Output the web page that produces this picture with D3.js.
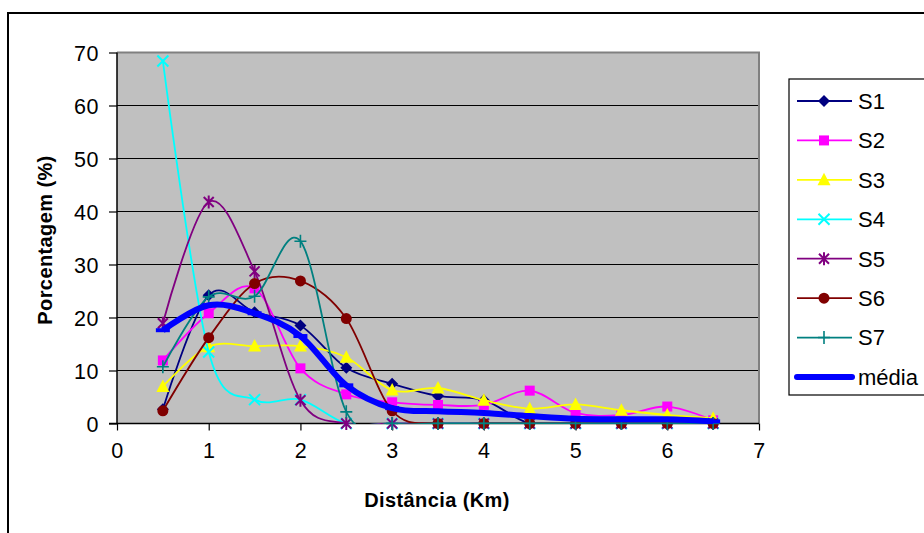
<!DOCTYPE html>
<html>
<head>
<meta charset="utf-8">
<script src="https://cdn.jsdelivr.net/npm/d3@7"></script>
<style>
  html, body { margin: 0; padding: 0; background: #fff; }
  svg { display: block; font-family: Arial, "Liberation Sans", sans-serif; }
</style>
</head>
<body>
<svg id="chart" width="924" height="533"></svg>
<script>
// Distance classes (km)
const distances = [0.5, 1, 1.5, 2, 2.5, 3, 3.5, 4, 4.5, 5, 5.5, 6, 6.5];

// Percentage per distance class for each site
const s1 = [2.7, 24.2, 21.0, 18.5, 10.5, 7.5, 5.2, 4.4, 0, 0, 0, 0, 0];
const s2 = [11.9, 20.8, 25.5, 10.4, 5.5, 4.0, 3.5, 3.5, 6.2, 2.0, 1.6, 3.2, 0.6];
const s3 = [7.0, 14.5, 14.6, 14.6, 12.5, 6.3, 6.7, 4.4, 2.8, 3.6, 2.5, 1.6, 1.0];
const s4 = [68.4, 13.5, 4.5, 4.5, 0, 0, 0, 0, 0, 0, 0, 0, 0];
const s5 = [18.9, 41.8, 28.7, 4.4, 0, 0, 0, 0, 0, 0, 0, 0, 0];
const s6 = [2.4, 16.2, 26.4, 26.9, 19.8, 2.4, 0, 0, 0, 0, 0, 0, 0];
const s7 = [10.7, 23.9, 24.0, 34.4, 2.2, 0, 0, 0, 0, 0, 0, 0, 0];
const media = [17.6, 22.3, 20.8, 16.5, 7.2, 2.9, 2.3, 2.0, 1.4, 0.9, 0.8, 0.8, 0.4];

const seriesNames = ["S1", "S2", "S3", "S4", "S5", "S6", "S7", "média"];
const xTicks = [0, 1, 2, 3, 4, 5, 6, 7];
const yTicks = [0, 10, 20, 30, 40, 50, 60, 70];

const series = [
  { name: seriesNames[0], values: s1, color: "#000080", marker: "diamond" },
  { name: seriesNames[1], values: s2, color: "#FF00FF", marker: "square" },
  { name: seriesNames[2], values: s3, color: "#FFFF00", marker: "triangle" },
  { name: seriesNames[3], values: s4, color: "#00FFFF", marker: "x" },
  { name: seriesNames[4], values: s5, color: "#800080", marker: "star" },
  { name: seriesNames[5], values: s6, color: "#800000", marker: "circle" },
  { name: seriesNames[6], values: s7, color: "#008080", marker: "plus" },
  { name: seriesNames[7], values: media, color: "#0000FF", marker: "dash" }
];

const svg = d3.select("#chart");

// Outer chart frame
svg.append("rect")
  .attr("x", 8).attr("y", 13).attr("width", 940).attr("height", 560)
  .attr("fill", "#fff").attr("stroke", "#000").attr("stroke-width", 2);

const plot = { left: 117, top: 52.5, right: 759, bottom: 423.5 };

const x = d3.scaleLinear().domain([0, 7]).range([plot.left, plot.right]);
const y = d3.scaleLinear().domain([0, 70]).range([plot.bottom, plot.top]);

// Clip region so smoothed curves stay inside the plot area
svg.append("clipPath").attr("id", "plot-clip")
  .append("rect")
  .attr("x", plot.left).attr("y", plot.top - 10)
  .attr("width", plot.right - plot.left).attr("height", plot.bottom - plot.top + 10.5);

// Plot area background
svg.append("rect")
  .attr("x", plot.left).attr("y", plot.top)
  .attr("width", plot.right - plot.left).attr("height", plot.bottom - plot.top)
  .attr("fill", "#C0C0C0");

// Horizontal gridlines
svg.append("g")
  .selectAll("line")
  .data(yTicks.filter(d => d > 0 && d < 70))
  .join("line")
  .attr("x1", plot.left).attr("x2", plot.right)
  .attr("y1", d => y(d)).attr("y2", d => y(d))
  .attr("stroke", "#000").attr("stroke-width", 1.2);

// Plot area frame (top and right)
svg.append("path")
  .attr("d", `M${plot.left},${plot.top}H${plot.right}V${plot.bottom}`)
  .attr("fill", "none").attr("stroke", "#808080").attr("stroke-width", 2);

// Axes
const yAxis = d3.axisLeft(y).tickValues(yTicks).tickSize(8).tickPadding(10).tickFormat(d3.format("d"));
const xAxis = d3.axisBottom(x).tickValues(xTicks).tickSize(7).tickPadding(12).tickFormat(d3.format("d"));

const gy = svg.append("g").attr("transform", `translate(${plot.left},0)`).call(yAxis);
const gx = svg.append("g").attr("transform", `translate(0,${plot.bottom})`).call(xAxis);

[gx, gy].forEach(g => {
  g.select(".domain").attr("stroke", "#000").attr("stroke-width", 1.5);
  g.selectAll(".tick line").attr("stroke", "#000").attr("stroke-width", 1.2);
  g.selectAll(".tick text")
    .attr("fill", "#000")
    .style("font-family", "Arial, 'Liberation Sans', sans-serif")
    .style("font-size", "21.5px")
    .style("letter-spacing", "0.6px");
});
gy.select(".domain").attr("d", `M-8,${plot.bottom}H0V${plot.top}`);
gx.select(".domain").attr("d", `M${plot.left},0H${plot.right}`);
gy.selectAll(".tick text").attr("dy", "0.36em");

// Axis titles
svg.append("text")
  .attr("x", (plot.left + plot.right) / 2 - 1).attr("y", 507)
  .attr("text-anchor", "middle")
  .style("font-size", "20px").style("font-weight", "bold")
  .style("letter-spacing", "0.4px")
  .text("Distância (Km)");

svg.append("text")
  .attr("transform", `translate(52,${(plot.top + plot.bottom) / 2 + 2}) rotate(-90)`)
  .attr("text-anchor", "middle")
  .style("font-size", "20px").style("font-weight", "bold")
  .style("letter-spacing", "0.4px")
  .text("Porcentagem (%)");

// Marker drawing
function drawMarker(g, type, color, cx, cy) {
  const m = g.append("g").attr("transform", `translate(${cx},${cy})`);
  switch (type) {
    case "diamond":
      m.append("path").attr("d", "M0,-6L6,0L0,6L-6,0Z").attr("fill", color);
      break;
    case "square":
      m.append("rect").attr("x", -5).attr("y", -5).attr("width", 10).attr("height", 10).attr("fill", color);
      break;
    case "triangle":
      m.append("path").attr("d", "M0,-7L6.5,5.5L-6.5,5.5Z").attr("fill", color);
      break;
    case "x":
      m.append("path").attr("d", "M-5.5,-5.5L5.5,5.5M5.5,-5.5L-5.5,5.5")
        .attr("stroke", color).attr("stroke-width", 2);
      break;
    case "star":
      m.append("path").attr("d", "M-5,-5L5,5M5,-5L-5,5M0,-6.5V6.5")
        .attr("stroke", color).attr("stroke-width", 2);
      break;
    case "circle":
      m.append("circle").attr("r", 5.5).attr("fill", color);
      break;
    case "plus":
      m.append("path").attr("d", "M-6,0H6M0,-6.5V6.5")
        .attr("stroke", color).attr("stroke-width", 1.6);
      break;
    case "dash":
      m.append("path").attr("d", "M-7,0H7")
        .attr("stroke", color).attr("stroke-width", 4);
      break;
  }
}

const line = d3.line()
  .x(d => x(d[0]))
  .y(d => y(d[1]))
  .curve(d3.curveCardinal.tension(0));

const gSeries = svg.append("g");
series.forEach(s => {
  const pts = distances.map((d, i) => [d, s.values[i]]);
  const g = gSeries.append("g");
  g.append("path")
    .attr("d", line(pts))
    .attr("clip-path", "url(#plot-clip)")
    .attr("fill", "none")
    .attr("stroke", s.color)
    .attr("stroke-width", s.marker === "dash" ? 6 : 1.8)
    .attr("stroke-linejoin", "round");
  pts.forEach(p => drawMarker(g, s.marker, s.color, x(p[0]), y(p[1])));
});

// Legend
const legend = svg.append("g");
legend.append("rect")
  .attr("x", 789).attr("y", 79).attr("width", 160).attr("height", 316)
  .attr("fill", "#fff").attr("stroke", "#000").attr("stroke-width", 1.2);

const legendY = d3.scalePoint().domain(seriesNames).range([101, 377]);
series.forEach(s => {
  const ly = legendY(s.name);
  const g = legend.append("g");
  if (s.marker === "dash") {
    g.append("line").attr("x1", 797).attr("x2", 852).attr("y1", ly).attr("y2", ly)
      .attr("stroke", s.color).attr("stroke-width", 6).attr("stroke-linecap", "round");
  } else {
    g.append("line").attr("x1", 797).attr("x2", 852).attr("y1", ly).attr("y2", ly)
      .attr("stroke", s.color).attr("stroke-width", 1.8);
    drawMarker(g, s.marker, s.color, 824, ly);
  }
  g.append("text")
    .attr("x", 858).attr("y", ly).attr("dy", "0.36em")
    .style("font-size", "22px").attr("fill", "#000")
    .text(s.name);
});
</script>
</body>
</html>
